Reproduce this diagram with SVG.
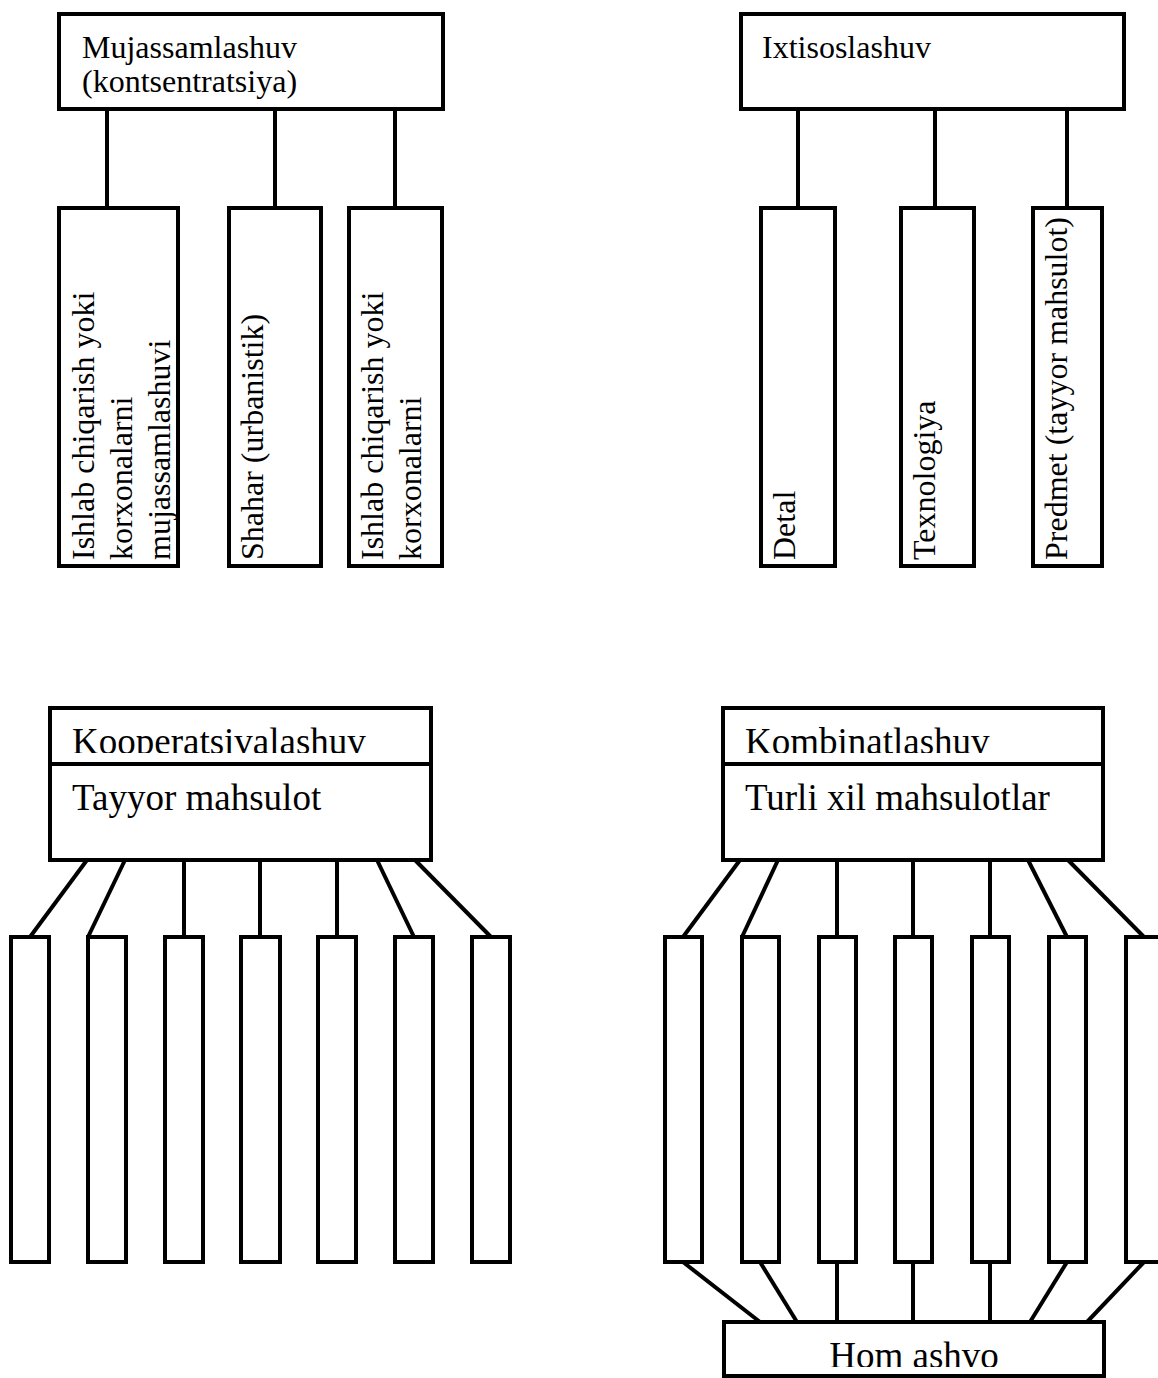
<svg xmlns="http://www.w3.org/2000/svg" width="1158" height="1378" viewBox="0 0 1158 1378">
<style>
  rect, line { fill: #fff; stroke: #000; stroke-width: 4; }
  line { fill: none; }
  text { font-family: "Liberation Serif", "Times New Roman", serif; fill: #000; }
  .t32 { font-size: 32px; }
  .t37 { font-size: 37px; }
</style>
<defs>
  <clipPath id="clipKoop"><rect x="50" y="708" width="381" height="45" style="stroke:none"/></clipPath>
  <clipPath id="clipKomb"><rect x="723" y="708" width="380" height="45" style="stroke:none"/></clipPath>
  <clipPath id="clipHom"><rect x="724" y="1322" width="380" height="45" style="stroke:none"/></clipPath>
</defs>
<rect x="0" y="0" width="1158" height="1378" style="fill:#fff;stroke:none"/>

<g id="connectors">
  <!-- top-left -->
  <line x1="107" y1="109" x2="107" y2="208"/>
  <line x1="275" y1="109" x2="275" y2="208"/>
  <line x1="395" y1="109" x2="395" y2="208"/>
  <!-- top-right -->
  <line x1="798" y1="109" x2="798" y2="208"/>
  <line x1="935" y1="109" x2="935" y2="208"/>
  <line x1="1067" y1="109" x2="1067" y2="208"/>
  <!-- bottom-left -->
  <line x1="87" y1="860" x2="30" y2="937"/>
  <line x1="125" y1="860" x2="88" y2="937"/>
  <line x1="184" y1="860" x2="184" y2="937"/>
  <line x1="260" y1="860" x2="260" y2="937"/>
  <line x1="337" y1="860" x2="337" y2="937"/>
  <line x1="377" y1="860" x2="414" y2="937"/>
  <line x1="415" y1="860" x2="491" y2="937"/>
  <!-- bottom-right top -->
  <line x1="740" y1="860" x2="683" y2="937"/>
  <line x1="778" y1="860" x2="742" y2="937"/>
  <line x1="837" y1="860" x2="837" y2="937"/>
  <line x1="913" y1="860" x2="913" y2="937"/>
  <line x1="990" y1="860" x2="990" y2="937"/>
  <line x1="1028" y1="860" x2="1067" y2="937"/>
  <line x1="1068" y1="860" x2="1144" y2="937"/>
  <!-- bottom-right to Hom ashvo -->
  <line x1="683" y1="1262" x2="760" y2="1322"/>
  <line x1="760" y1="1262" x2="797" y2="1322"/>
  <line x1="837" y1="1262" x2="837" y2="1322"/>
  <line x1="913" y1="1262" x2="913" y2="1322"/>
  <line x1="990" y1="1262" x2="990" y2="1322"/>
  <line x1="1067" y1="1262" x2="1030" y2="1322"/>
  <line x1="1144" y1="1262" x2="1087" y2="1322"/>
</g>

<g id="mujassamlashuv">
  <rect x="59" y="14" width="384" height="95"/>
  <text class="t32" x="82" y="58">Mujassamlashuv</text>
  <text class="t32" x="82" y="92">(kontsentratsiya)</text>
</g>
<g id="muj-1">
  <rect x="59" y="208" width="119" height="358"/>
  <text class="t32" transform="translate(94,560) rotate(-90)">Ishlab chiqarish yoki<tspan x="0" dy="38">korxonalarni</tspan><tspan x="0" dy="38">mujassamlashuvi</tspan></text>
</g>
<g id="muj-2">
  <rect x="229" y="208" width="92" height="358"/>
  <text class="t32" transform="translate(263,560) rotate(-90)">Shahar (urbanistik)</text>
</g>
<g id="muj-3">
  <rect x="349" y="208" width="93" height="358"/>
  <text class="t32" transform="translate(383,560) rotate(-90)">Ishlab chiqarish yoki<tspan x="0" dy="38">korxonalarni</tspan></text>
</g>

<g id="ixtisoslashuv">
  <rect x="741" y="14" width="383" height="95"/>
  <text class="t32" x="762" y="58">Ixtisoslashuv</text>
</g>
<g id="ixt-1">
  <rect x="761" y="208" width="74" height="358"/>
  <text class="t32" transform="translate(795,560) rotate(-90)">Detal</text>
</g>
<g id="ixt-2">
  <rect x="901" y="208" width="73" height="358"/>
  <text class="t32" transform="translate(935,560) rotate(-90)">Texnologiya</text>
</g>
<g id="ixt-3">
  <rect x="1033" y="208" width="69" height="358"/>
  <text class="t32" transform="translate(1067,560) rotate(-90)">Predmet (tayyor mahsulot)</text>
</g>

<g id="kooperatsivalashuv">
  <rect x="50" y="708" width="381" height="152"/>
  <line x1="50" y1="764" x2="431" y2="764"/>
  <text class="t37" x="72" y="754" clip-path="url(#clipKoop)">Kooperatsivalashuv</text>
  <text class="t37" x="72" y="810">Tayyor mahsulot</text>
</g>
<g id="koop-items">
  <rect id="koop-1" x="11" y="937" width="38" height="325"/>
  <rect id="koop-2" x="88" y="937" width="38" height="325"/>
  <rect id="koop-3" x="165" y="937" width="38" height="325"/>
  <rect id="koop-4" x="241" y="937" width="39" height="325"/>
  <rect id="koop-5" x="318" y="937" width="38" height="325"/>
  <rect id="koop-6" x="395" y="937" width="38" height="325"/>
  <rect id="koop-7" x="472" y="937" width="38" height="325"/>
</g>

<g id="kombinatlashuv">
  <rect x="723" y="708" width="380" height="152"/>
  <line x1="723" y1="764" x2="1103" y2="764"/>
  <text class="t37" x="745" y="754" clip-path="url(#clipKomb)">Kombinatlashuv</text>
  <text class="t37" x="745" y="810">Turli xil mahsulotlar</text>
</g>
<g id="komb-items">
  <rect id="komb-1" x="665" y="937" width="37" height="325"/>
  <rect id="komb-2" x="742" y="937" width="37" height="325"/>
  <rect id="komb-3" x="819" y="937" width="37" height="325"/>
  <rect id="komb-4" x="895" y="937" width="37" height="325"/>
  <rect id="komb-5" x="972" y="937" width="37" height="325"/>
  <rect id="komb-6" x="1049" y="937" width="37" height="325"/>
  <rect id="komb-7" x="1126" y="937" width="37" height="325"/>
</g>

<g id="hom-ashvo">
  <rect x="724" y="1322" width="380" height="54"/>
  <text class="t37" x="914" y="1368" text-anchor="middle" clip-path="url(#clipHom)">Hom ashvo</text>
</g>
</svg>
